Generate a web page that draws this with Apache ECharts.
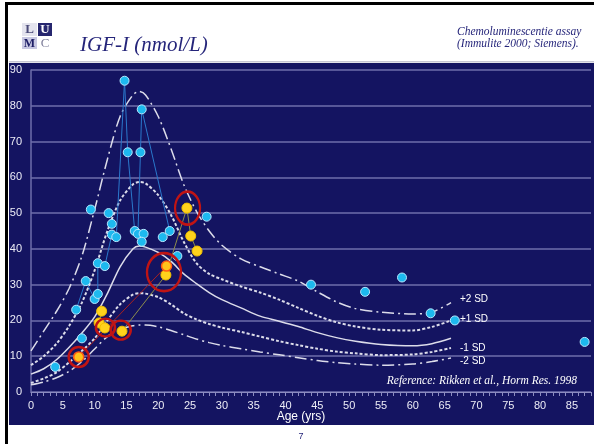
<!DOCTYPE html>
<html>
<head>
<meta charset="utf-8">
<script src="https://cdn.jsdelivr.net/npm/echarts@6/dist/echarts.min.js"></script>
<style>
  html, body { margin: 0; padding: 0; background: #ffffff; }
  #chart { width: 594px; height: 444px; }
</style>
</head>
<body>
<div id="chart"></div>
<script>
// reference curves (Rikken et al.), age in years -> IGF-I nmol/L
var curveAges = [0, 2, 4, 6, 8, 10, 12, 14, 16, 17, 18, 20, 22, 24, 26, 28, 30, 33, 36, 39, 42, 45, 48, 51, 55, 60, 63, 66];
var plus2SD  = [11.5, 17, 22.5, 29, 38, 51, 65, 77, 83, 84, 83, 77, 68, 58, 50.5, 45, 41, 37.2, 35, 33, 31, 28, 25.2, 23.3, 22.3, 21.8, 22.3, 25];
var plus1SD  = [7.5, 10, 13.5, 18.5, 25, 34, 45, 53.5, 58, 58.7, 58.3, 55, 49.5, 42, 36, 33, 31.5, 29.5, 27.8, 25.8, 23.5, 21.3, 19.5, 18.3, 17.4, 17.2, 18.2, 20];
var meanSD   = [5, 6.5, 9, 12.5, 16.5, 21, 27.5, 35, 40, 40.8, 40.5, 39, 36.5, 33, 30.3, 27.8, 25.8, 23.5, 21.2, 19.8, 18.3, 16.6, 15.2, 14.2, 13.3, 12.9, 13.5, 15];
var min1SD   = [2.5, 3.8, 5.5, 8.3, 11.5, 15, 20, 24.5, 27.2, 27.6, 27.5, 26.5, 24.5, 22, 20.3, 19, 18, 16.8, 15.5, 14.2, 13.1, 12.1, 11.3, 10.8, 10.3, 10.5, 11.2, 12.3];
var min2SD   = [2, 2.8, 4, 5.8, 8.5, 12, 15.5, 17.5, 18.5, 18.7, 18.7, 18.2, 17.2, 16, 14.8, 13.8, 13, 12.1, 11.2, 10.4, 9.6, 8.8, 8.2, 7.8, 7.5, 7.8, 8.5, 9.5];

// patient measurements [age, IGF-I]
var cyanPts = [[3.8, 7], [7.1, 23], [8.0, 15], [8.6, 31], [10, 26], [10.5, 27.4], [10.5, 36], [11.6, 35.2],
  [9.4, 51], [12.2, 50], [12.7, 47], [12.7, 44], [13.4, 43.3], [14.7, 87], [15.2, 67], [17.2, 67], [17.4, 79],
  [16.3, 45], [16.8, 44.2], [17.7, 44.2], [17.4, 42], [20.7, 43.3], [21.8, 45], [23.0, 38], [27.6, 49],
  [44, 30], [52.5, 28], [58.3, 32], [62.8, 22], [66.6, 20], [87, 14]];
var yellowPts = [[11.1, 22.6], [10.7, 19.3], [11.6, 17.9], [14.3, 17], [21.2, 32.7], [24.5, 51.4], [25.1, 43.6], [26.1, 39.4]];
var orangePts = [[7.5, 9.8], [21.3, 35.2]];
var ringPts = [[7.5, 9.8], [11.7, 18], [14.1, 17.3], [20.9, 33.5], [24.6, 51.4]];

// follow-up lines between measurements
var blueTracks = [
  [[7.1, 23], [8.6, 31], [10, 26]],
  [[10.5, 27.4], [10.5, 36]],
  [[11.6, 35.2], [12.7, 44]],
  [[14.7, 87], [13.4, 43.3]],
  [[14.7, 87], [15.2, 67], [16.3, 45]],
  [[17.4, 79], [17.2, 67], [16.8, 44.2]],
  [[17.4, 79], [21.8, 45]]
];
var oliveTracks = [
  [[14.3, 17], [21.2, 32.7], [24.5, 51.4], [25.1, 43.6], [26.1, 39.4]],
  [[10.7, 19.3], [11.1, 22.6]]
];
var redTracks = [
  [[7.5, 9.8], [21.3, 35.2]]
];

var xTicks = 5;      // label every 5 years
var yTicks = 10;

function zip(xs, ys) {
  var out = [];
  for (var i = 0; i < xs.length; i++) {
    out.push([xs[i], ys[i]]);
  }
  return out;
}

function curve(name, values, dash, width, dy) {
  return {
    name: name,
    type: 'line',
    data: zip(curveAges, values),
    smooth: 0.3,
    symbol: 'none',
    silent: true,
    z: 2,
    lineStyle: { color: '#dcdcea', width: width, type: dash },
    endLabel: {
      show: true,
      formatter: name,
      color: '#ffffff',
      fontFamily: 'Liberation Sans',
      fontSize: 10,
      distance: 9,
      offset: [0, dy]
    }
  };
}

function track(points, color) {
  return {
    type: 'line',
    data: points,
    symbol: 'none',
    silent: true,
    z: 3,
    lineStyle: { color: color, width: 1 }
  };
}

var ringSizes = [[20, 20], [19, 18], [20, 19], [34, 38], [25, 33]];

var dom = document.getElementById('chart');
var myChart = echarts.init(dom, null, { renderer: 'canvas' });

var series = [
  curve('+2 SD', plus2SD, [12, 4, 2, 4], 1.5, -3),
  curve('+1 SD', plus1SD, [3, 2], 2, -1),
  curve('mean', meanSD, 'solid', 1.5, 0),
  curve('-1 SD', min1SD, [3, 2], 2, 0),
  curve('-2 SD', min2SD, [12, 4, 2, 4], 1.5, 3)
];
series[2].endLabel.show = false;

blueTracks.forEach(function (t) { series.push(track(t, '#2a78cc')); });
oliveTracks.forEach(function (t) { series.push(track(t, '#8e8e4c')); });
redTracks.forEach(function (t) { series.push(track(t, '#a82020')); });

series.push({
  type: 'scatter',
  data: cyanPts,
  symbolSize: 9,
  z: 5,
  itemStyle: { color: '#1db9ef', borderColor: '#b8e8ff', borderWidth: 1, opacity: 1 }
});
series.push({
  type: 'scatter',
  data: yellowPts,
  symbolSize: 10,
  z: 5,
  itemStyle: { color: '#ffd21c', borderColor: '#f0c000', borderWidth: 1, opacity: 1 }
});
series.push({
  type: 'scatter',
  data: orangePts,
  symbolSize: 10,
  z: 5,
  itemStyle: { color: '#ffc21a', borderColor: '#ff5a14', borderWidth: 1.5, opacity: 1 }
});
series.push({
  type: 'scatter',
  data: ringPts,
  symbol: 'circle',
  symbolSize: function (val, params) { return ringSizes[params.dataIndex]; },
  z: 6,
  silent: true,
  itemStyle: { color: 'rgba(0,0,0,0)', borderColor: '#c01414', borderWidth: 2.5, opacity: 1 }
});

var option = {
  animation: false,
  backgroundColor: '#ffffff',
  grid: { left: 31, right: 2, top: 70, bottom: 52 },
  xAxis: {
    type: 'value',
    min: 0,
    max: 88,
    interval: 1,
    axisLine: { show: true, lineStyle: { color: '#8c8cc0', width: 1 } },
    axisTick: { show: true, length: 4, lineStyle: { color: '#8c8cc0' } },
    axisLabel: {
      color: '#ececf6',
      fontFamily: 'Liberation Sans',
      fontSize: 11,
      margin: 8,
      formatter: function (v) { return v % xTicks === 0 ? String(v) : ''; }
    },
    splitLine: { show: false }
  },
  yAxis: {
    type: 'value',
    min: 0,
    max: 90,
    interval: yTicks,
    axisLine: { show: true, lineStyle: { color: '#6e6eab', width: 1.5 } },
    axisTick: { show: false },
    axisLabel: {
      color: '#ececf6',
      fontFamily: 'Liberation Sans',
      fontSize: 11,
      margin: 9
    },
    splitLine: { show: true, lineStyle: { color: '#6e6eab', width: 1.5 } }
  },
  graphic: [
    // dark slide panel
    { type: 'rect', z: -10, shape: { x: 9, y: 63, width: 585, height: 362 }, style: { fill: '#141461' } },
    { type: 'rect', z: -10, shape: { x: 9, y: 61, width: 585, height: 1.5 }, style: { fill: '#c6c6d2' } },
    // black frame top / left
    { type: 'rect', z: 10, shape: { x: 5, y: 2, width: 589, height: 3 }, style: { fill: '#000000' } },
    { type: 'rect', z: 10, shape: { x: 5, y: 2, width: 3, height: 442 }, style: { fill: '#000000' } },
    // LUMC logo
    { type: 'rect', shape: { x: 22, y: 23, width: 15, height: 13 }, style: { fill: '#e4e4ee' } },
    { type: 'rect', shape: { x: 38, y: 23, width: 14, height: 13 }, style: { fill: '#26266e' } },
    { type: 'rect', shape: { x: 22, y: 37, width: 15, height: 12 }, style: { fill: '#c8c8e2' } },
    { type: 'text', style: { x: 29.5, y: 30, text: 'L', fill: '#4a4a78', font: 'bold 13px Liberation Serif', textAlign: 'center', textVerticalAlign: 'middle' } },
    { type: 'text', style: { x: 45, y: 30, text: 'U', fill: '#ffffff', font: 'bold 13px Liberation Serif', textAlign: 'center', textVerticalAlign: 'middle' } },
    { type: 'text', style: { x: 29.5, y: 43.5, text: 'M', fill: '#1e1e66', font: 'bold 12px Liberation Serif', textAlign: 'center', textVerticalAlign: 'middle' } },
    { type: 'text', style: { x: 45, y: 43.5, text: 'C', fill: '#7e7e9a', font: '13px Liberation Serif', textAlign: 'center', textVerticalAlign: 'middle' } },
    // titles
    { type: 'text', style: { x: 80, y: 45, text: 'IGF-I (nmol/L)', fill: '#25257a', font: 'italic 21px Liberation Serif', textVerticalAlign: 'middle' } },
    { type: 'text', style: { x: 457, y: 32, text: 'Chemoluminescentie assay', fill: '#25257a', font: 'italic 11.5px Liberation Serif', textVerticalAlign: 'middle' } },
    { type: 'text', style: { x: 457, y: 44, text: '(Immulite 2000; Siemens).', fill: '#25257a', font: 'italic 11.5px Liberation Serif', textVerticalAlign: 'middle' } },
    { type: 'text', z: 10, style: { x: 577, y: 381, text: 'Reference: Rikken et al., Horm Res. 1998', fill: '#ffffff', font: 'italic 11.5px Liberation Serif', textAlign: 'right', textVerticalAlign: 'middle' } },
    { type: 'text', style: { x: 301, y: 417, text: 'Age (yrs)', fill: '#ffffff', font: '12px Liberation Sans', textAlign: 'center', textVerticalAlign: 'middle' } },
    { type: 'text', style: { x: 301, y: 437, text: '7', fill: '#25257a', font: '9px Liberation Sans', textAlign: 'center', textVerticalAlign: 'middle' } }
  ],
  series: series
};

if (option && typeof option === 'object') {
  myChart.setOption(option);
}
</script>
</body>
</html>
